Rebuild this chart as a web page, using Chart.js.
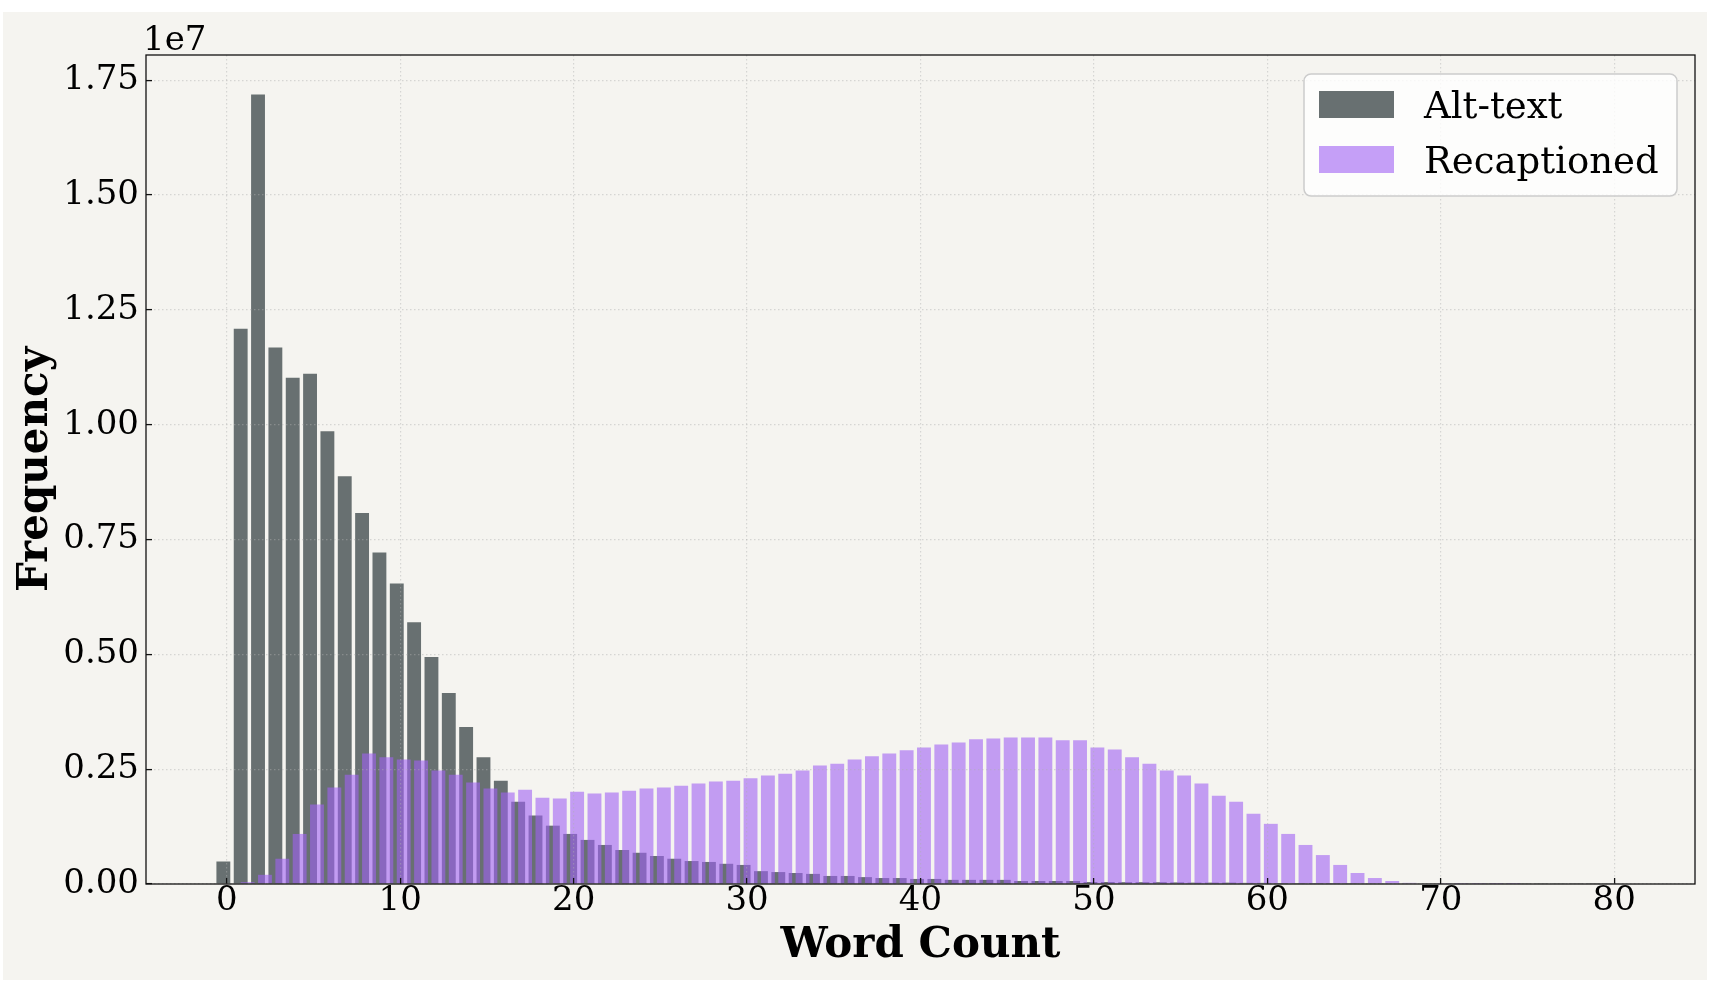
<!DOCTYPE html>
<html>
<head>
<meta charset="utf-8">
<script src="https://cdn.jsdelivr.net/npm/chart.js@4.4.1/dist/chart.umd.min.js"></script>
<style>
html,body{margin:0;padding:0;background:#ffffff;overflow:hidden;}
#wrap{position:absolute;left:0;top:0;width:1714px;height:988px;}
</style>
</head>
<body>
<div id="wrap"><canvas id="chart"></canvas></div>
<script>
// ---- data ----
const wordCounts = [0,1,2,3,4,5,6,7,8,9,10,11,12,13,14,15,16,17,18,19,20,
  21,22,23,24,25,26,27,28,29,30,31,32,33,34,35,36,37,38,39,40,
  41,42,43,44,45,46,47,48,49,50,51,52,53,54,55,56,57,58,59,60,
  61,62,63,64,65,66,67,68,69,70,71,72,73,74,75,76,77,78,79,80];

// frequencies in units of 1e7
const altTextE7 = [0.049,1.209,1.719,1.168,1.102,1.111,0.986,0.888,0.808,0.722,0.654,
  0.570,0.494,0.416,0.342,0.276,0.225,0.179,0.149,0.127,0.109,
  0.096,0.085,0.074,0.068,0.061,0.055,0.050,0.048,0.044,0.0415,
  0.028,0.026,0.024,0.022,0.0175,0.0175,0.015,0.013,0.013,0.011,
  0.011,0.009,0.009,0.009,0.009,0.0066,0.0066,0.0066,0.0066,0.0044,
  0.0044,0.004,0.004,0.004,0.0035,0.003,0.003,0.003,0.0025,0.0025,
  0.002,0.002,0.002,0.002,0.0018,0.0016,0.0015,0.0014,0.0013,0.0012,
  0.0011,0.001,0.001,0.001,0.0009,0.0009,0.0009,0.0008,0.0008,0.0008];

const recaptionedE7 = [0,0.004,0.020,0.055,0.109,0.173,0.210,0.238,0.284,0.276,0.271,
  0.269,0.247,0.238,0.221,0.208,0.199,0.205,0.188,0.186,0.201,
  0.197,0.199,0.203,0.208,0.210,0.214,0.219,0.223,0.225,0.230,
  0.236,0.240,0.247,0.258,0.262,0.271,0.278,0.284,0.291,0.297,
  0.304,0.308,0.315,0.317,0.319,0.319,0.319,0.313,0.313,0.297,
  0.293,0.276,0.262,0.247,0.236,0.219,0.192,0.179,0.153,0.131,
  0.109,0.085,0.063,0.0415,0.024,0.013,0.0066,0.0025,0.0012,0.0006,
  0.0003,0.0002,0.0001,0.0001,0,0,0,0,0,0];

const seriesLabels = ['Alt-text', 'Recaptioned'];
const xTickValues = [0,10,20,30,40,50,60,70,80];
const yTickValues = [0,0.25,0.5,0.75,1.0,1.25,1.5,1.75];
const SCALE = 1e7;

// ---- style ----
const BG = '#f5f4f0';
const GRAY = '#687071';
const PURPLE = 'rgba(160,97,243,0.6)';
const FONT = '"DejaVu Serif", "Liberation Serif", serif';
const GRID = 'rgba(175,175,175,0.45)';
const TICK_SIZE = 34;

const altData = altTextE7.map(v => v * SCALE);
const recapData = recaptionedE7.map(v => v * SCALE);
const yMax = Math.max(...altData, ...recapData) * 1.05;

const bgPlugin = {
  id: 'figureBg',
  beforeDraw(chart) {
    const ctx = chart.ctx;
    ctx.save();
    ctx.fillStyle = '#ffffff';
    ctx.fillRect(0, 0, chart.width, chart.height);
    ctx.fillStyle = BG;
    ctx.fillRect(3, 12, chart.width - 10, chart.height - 20);
    ctx.restore();
  }
};

// draw Alt-text first, Recaptioned (semi-transparent) on top
const drawOrderPlugin = {
  id: 'drawOrder',
  beforeDatasetsDraw(chart) {
    const ctx = chart.ctx, a = chart.chartArea;
    ctx.save();
    ctx.beginPath();
    ctx.rect(a.left, a.top, a.right - a.left, a.bottom - a.top);
    ctx.clip();
    chart.getSortedVisibleDatasetMetas().forEach(m => m.controller.draw());
    ctx.restore();
    return false;
  }
};

const framePlugin = {
  id: 'frame',
  afterDraw(chart) {
    const ctx = chart.ctx, a = chart.chartArea;
    ctx.save();
    ctx.strokeStyle = '#111111';
    ctx.lineWidth = 1.3;
    ctx.strokeRect(a.left, a.top, a.right - a.left, a.bottom - a.top);
    // offset text
    ctx.fillStyle = '#000000';
    ctx.font = TICK_SIZE + 'px ' + FONT;
    ctx.textAlign = 'left';
    ctx.textBaseline = 'alphabetic';
    ctx.fillText('1e7', a.left - 3, a.top - 5);
    ctx.restore();
  }
};

function roundRectPath(ctx, x, y, w, h, r) {
  ctx.beginPath();
  ctx.moveTo(x + r, y);
  ctx.lineTo(x + w - r, y);
  ctx.arcTo(x + w, y, x + w, y + r, r);
  ctx.lineTo(x + w, y + h - r);
  ctx.arcTo(x + w, y + h, x + w - r, y + h, r);
  ctx.lineTo(x + r, y + h);
  ctx.arcTo(x, y + h, x, y + h - r, r);
  ctx.lineTo(x, y + r);
  ctx.arcTo(x, y, x + r, y, r);
  ctx.closePath();
}

const legendPlugin = {
  id: 'boxLegend',
  afterDraw(chart) {
    const ctx = chart.ctx, a = chart.chartArea;
    const w = 373, h = 122;
    const x = a.right - 18 - w, y = a.top + 19;
    ctx.save();
    roundRectPath(ctx, x, y, w, h, 7);
    ctx.fillStyle = 'rgba(255,255,255,0.8)';
    ctx.fill();
    ctx.strokeStyle = '#cccccc';
    ctx.lineWidth = 1.5;
    ctx.stroke();
    ctx.font = '37px ' + FONT;
    ctx.textAlign = 'left';
    ctx.textBaseline = 'alphabetic';
    chart.data.datasets.forEach((ds, i) => {
      const ry = y + 17 + i * 55;
      ctx.fillStyle = ds.backgroundColor;
      ctx.fillRect(x + 15, ry, 75, 27);
      ctx.fillStyle = '#000000';
      ctx.fillText(ds.label, x + 120, ry + 27);
    });
    ctx.restore();
  }
};

const gridOpts = {
  z: 1, color: GRID, lineWidth: 1.2, offset: false,
  drawTicks: true, tickLength: -6, tickColor: '#111111', tickWidth: 1.3, tickBorderDash: []
};
const borderOpts = { display: false, dash: [1.5, 2.5] };

new Chart(document.getElementById('chart'), {
  type: 'bar',
  data: {
    labels: wordCounts,
    datasets: [
      { label: seriesLabels[0], data: altData, backgroundColor: GRAY, borderWidth: 0 },
      { label: seriesLabels[1], data: recapData, backgroundColor: PURPLE, borderWidth: 0 }
    ]
  },
  options: {
    responsive: true,
    maintainAspectRatio: false,
    animation: false,
    events: [],
    datasets: { bar: { categoryPercentage: 0.8, barPercentage: 2 } },
    layout: { padding: { left: 0, top: 55, right: 19, bottom: 0 } },
    plugins: { legend: { display: false }, tooltip: { enabled: false }, title: { display: false } },
    scales: {
      x: {
        type: 'linear',
        offset: false,
        min: -4.66,
        max: 84.66,
        afterFit(scale) { scale.height = 104; },
        afterBuildTicks(scale) { scale.ticks = xTickValues.map(v => ({ value: v })); },
        border: borderOpts,
        grid: gridOpts,
        ticks: {
          color: '#000000', padding: 3, font: { family: FONT, size: TICK_SIZE },
          maxRotation: 0, autoSkip: false,
          callback: v => String(v)
        },
        title: {
          display: true, text: 'Word Count', color: '#000000',
          font: { family: FONT, size: 42, weight: 'bold' },
          padding: { top: 0, bottom: 17 }
        }
      },
      y: {
        type: 'linear',
        offset: false,
        min: 0,
        max: yMax,
        afterFit(scale) { scale.width = 146; },
        afterBuildTicks(scale) { scale.ticks = yTickValues.map(v => ({ value: v * SCALE })); },
        border: borderOpts,
        grid: gridOpts,
        ticks: {
          color: '#000000', padding: 13, font: { family: FONT, size: TICK_SIZE },
          callback: v => (v / SCALE).toFixed(2)
        },
        title: {
          display: true, text: 'Frequency', color: '#000000',
          font: { family: FONT, size: 42, weight: 'bold' },
          padding: { top: 11, bottom: 0 }
        }
      }
    }
  },
  plugins: [bgPlugin, drawOrderPlugin, framePlugin, legendPlugin]
});
</script>
</body>
</html>
